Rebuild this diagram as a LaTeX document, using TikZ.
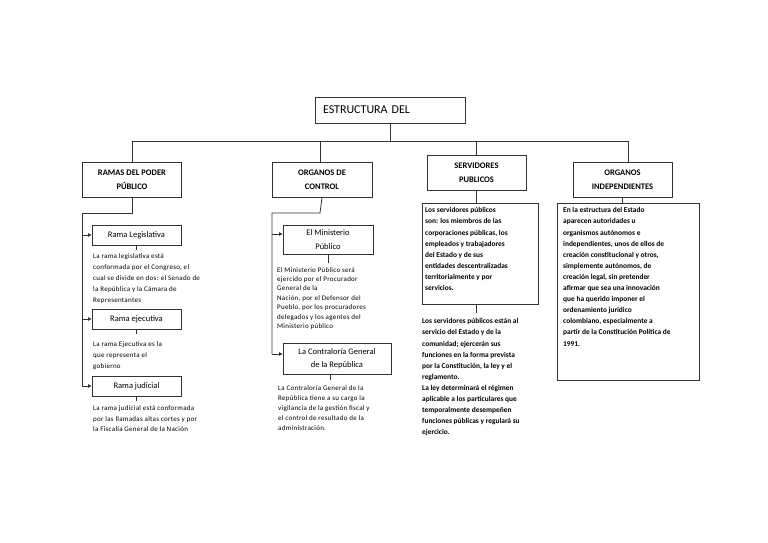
\documentclass[tikz,border=0pt]{standalone}
\usepackage{fontspec}
\setmainfont{Carlito}
\newfontfamily\spaced[LetterSpace=4]{Carlito}
\usetikzlibrary{arrows.meta}
\definecolor{ln}{HTML}{333333}
\tikzset{
  hbox/.style={draw=ln, line width=1pt, minimum width=99pt, minimum height=35pt, inner sep=0pt, align=center, font=\fontsize{8.5}{14}\selectfont\bfseries},
  subbox/.style={draw=ln, line width=0.9pt, minimum width=89pt, minimum height=20pt, inner sep=0pt, align=center, font=\fontsize{8.5}{14}\selectfont},
  txtbox/.style={draw=ln, line width=0.9pt, inner sep=0pt, anchor=north west},
  small/.style={anchor=north west, inner sep=0pt, align=left, font=\spaced\fontsize{7}{11}\selectfont},
  smallb/.style={anchor=north west, inner sep=0pt, align=left, font=\fontsize{7.4}{11.1}\selectfont\bfseries},
  conn/.style={draw=ln, line width=0.8pt},
  arr/.style={conn, -{Triangle[length=3.5pt,width=3.5pt]}},
}
\begin{document}
\begin{tikzpicture}[x=1pt,y=-1pt]
\useasboundingbox (0,0) rectangle (768,543);
\fill[white] (0,0) rectangle (768,543);

% top
\node[draw=ln, line width=1pt, minimum width=150pt, minimum height=26pt, inner sep=0pt, text width=134pt, align=left, font=\fontsize{12}{14}\selectfont] (top) at (390,110) {ESTRUCTURA DEL};

\coordinate (j) at (390,141);
\coordinate (h1) at (132,141);
\coordinate (h2) at (320,141);
\coordinate (h3) at (476,141);
\coordinate (h4) at (628,141);

\node[hbox] (b1) at (132,179.5) {RAMAS DEL PODER\\PÚBLICO};
\node[hbox, minimum width=100pt] (b2) at (322,179.5) {ORGANOS DE\\CONTROL};
\node[hbox] (b3) at (476.5,172.5) {SERVIDORES\\PUBLICOS};
\node[hbox] (b4) at (622.5,179.5) {ORGANOS\\INDEPENDIENTES};

\draw[conn] (top.south) -- (j);
\draw[conn] (h1) -- (h4);
\draw[conn] (h1) -- (h1 |- b1.north);
\draw[conn] (h2) -- (h2 |- b2.north);
\draw[conn] (h3) -- (h3 |- b3.north);
\draw[conn] (h4) -- (h4 |- b4.north);

% column 1
\node[subbox] (s1) at (136.5,235) {Rama Legislativa};
\node[subbox] (s2) at (136.5,319) {Rama ejecutiva};
\node[subbox] (s3) at (136.5,386) {Rama judicial};
\coordinate (c1a) at (132,213);
\coordinate (c1b) at (82,213);
\coordinate (c1c) at (82,386);
\draw[conn] (b1.south) -- (c1a) -- (c1b) -- (c1c);
\draw[arr] (c1b |- s1.west) -- (s1.west);
\draw[arr] (c1b |- s2.west) -- (s2.west);
\draw[arr] (c1c) -- (s3.west);
\draw[conn, line width=0.5pt] (s1.south) -- ++(0,5);
\draw[conn, line width=0.5pt] (s2.south) -- ++(0,5);
\draw[conn, line width=0.5pt] (s3.south) -- ++(0,5);
\node[small] (t1) at (93,253) {La rama legislativa está\\conformada por el Congreso, el\\cual se divide en dos: el Senado de\\la República y la Cámara de\\Representantes};
\node[small] (t2) at (93,341) {La rama Ejecutiva es la\\que representa el\\gobierno};
\node[small, font=\spaced\fontsize{7}{10.5}\selectfont] (t3) at (93,405.5) {La rama judicial está conformada\\por las llamadas altas cortes y por\\la Fiscalía General de la Nación};

% column 2
\node[subbox, minimum width=90pt, minimum height=29pt] (m1) at (328,239.5) {El Ministerio\\Público};
\node[subbox, minimum width=108pt, minimum height=31pt, font=\fontsize{8.5}{13.5}\selectfont] (m2) at (337,358.5) {La Contraloría General\\de la República};
\coordinate (c2a) at (320,213);
\coordinate (c2b) at (272,213);
\coordinate (c2c) at (272,354);
\draw[conn] (b2.south) -- (c2a) -- (c2b) -- (c2c);
\draw[arr] (c2b |- 0,234) -- (m1.west |- 0,234);
\draw[arr] (c2c) -- (m2.west |- c2c);
\draw[conn, line width=0.5pt] (m1.south) -- ++(0,9);
\draw[conn, line width=0.5pt] (m2.south -| 330,0) -- ++(0,6);
\node[small, font=\spaced\fontsize{7}{9.4}\selectfont] (t4) at (277,267) {El Ministerio Público será\\ejercido por el Procurador\\General de la\\Nación, por el Defensor del\\Pueblo, por los procuradores\\delegados y los agentes del\\Ministerio público};
\node[small, font=\spaced\fontsize{7}{10}\selectfont] (t5) at (278,385) {La Contraloría General de la\\República tiene a su cargo la\\vigilancia de la gestión fiscal y\\el control de resultado de la\\administración.};

% column 3
\node[txtbox, minimum width=116pt, minimum height=101pt] (k3) at (422,203) {};
\draw[conn] (b3.south) -- (b3.south |- k3.north);
\node[smallb] (t6) at (425,207.5) {Los servidores públicos\\son: los miembros de las\\corporaciones públicas, los\\empleados y trabajadores\\del Estado y de sus\\entidades descentralizadas\\territorialmente y por\\servicios.};
\coordinate (c3) at (476,313);
\draw[conn] (k3.south -| c3) -- (c3);
\node[smallb] (t7) at (422,318.5) {Los servidores públicos están al\\servicio del Estado y de la\\comunidad; ejercerán sus\\funciones en la forma prevista\\por la Constitución, la ley y el\\reglamento.\\La ley determinará el régimen\\aplicable a los particulares que\\temporalmente desempeñen\\funciones públicas y regulará su\\ejercicio.};

% column 4
\node[txtbox, minimum width=142pt, minimum height=177pt] (k4) at (557,203) {};
\draw[conn] (b4.south) -- (b4.south |- k4.north);
\node[smallb] (t8) at (563,207.5) {En la estructura del Estado\\aparecen autoridades u\\organismos autónomos e\\independientes, unos de ellos de\\creación constitucional y otros,\\simplemente autónomos, de\\creación legal, sin pretender\\afirmar que sea una innovación\\que ha querido imponer el\\ordenamiento jurídico\\colombiano, especialmente a\\partir de la Constitución Política de\\1991.};
\end{tikzpicture}
\end{document}
